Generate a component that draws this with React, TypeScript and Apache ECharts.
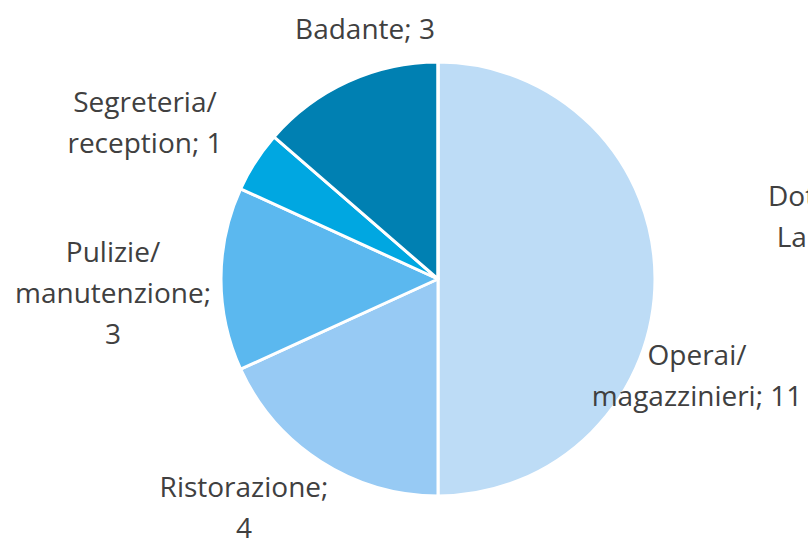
import React, { useEffect, useRef } from "react";
import * as echarts from "echarts";

const categories = [
  "Operai/\nmagazzinieri",
  "Ristorazione",
  "Pulizie/\nmanutenzione",
  "Segreteria/\nreception",
  "Badante",
  "Dottorato/\nLaurea",
];
const values = [11, 4, 3, 1, 3, 0];
const colors = ["#BDDCF6", "#97CAF4", "#5BB8EF", "#00A7E1", "#0080B2", "#0062A0"];

// label layout (page pixels) and wrapping of value onto its own line
const labelPos: [number, number][] = [
  [697, 374],
  [244, 506],
  [113, 292],
  [145, 121],
  [365, 28],
  [837, 215],
];
const valueBreak = [false, true, true, false, false, false];

export default function App() {
  const ref = useRef<HTMLDivElement>(null);
  useEffect(() => {
    if (!ref.current) return;
    const chart = echarts.init(ref.current, undefined, { renderer: "svg" });
    chart.setOption({
      animation: false,
      backgroundColor: "#ffffff",
      series: [
        {
          type: "pie",
          center: [438, 279],
          radius: [0, 217],
          startAngle: 90,
          clockwise: true,
          avoidLabelOverlap: false,
          itemStyle: { borderColor: "#ffffff", borderWidth: 3 },
          label: {
            show: true,
            color: "#404040",
            fontFamily: "Open Sans",
            fontSize: 28,
            lineHeight: 41,
            align: "center",
            formatter: (p: any) =>
              p.name + ";" + (valueBreak[p.dataIndex] ? "\n" : " ") + p.value,
          },
          labelLine: { show: false },
          labelLayout: (p: any) => ({
            x: labelPos[p.dataIndex][0],
            y: labelPos[p.dataIndex][1],
            align: "center",
            verticalAlign: "middle",
          }),
          data: categories.map((c, i) => ({
            name: c,
            value: values[i],
            itemStyle: { color: colors[i] },
          })),
        },
      ],
    });
    return () => chart.dispose();
  }, []);
  return (
    <div
      ref={ref}
      style={{ position: "fixed", left: 0, top: 0, width: 808, height: 540 }}
    />
  );
}
